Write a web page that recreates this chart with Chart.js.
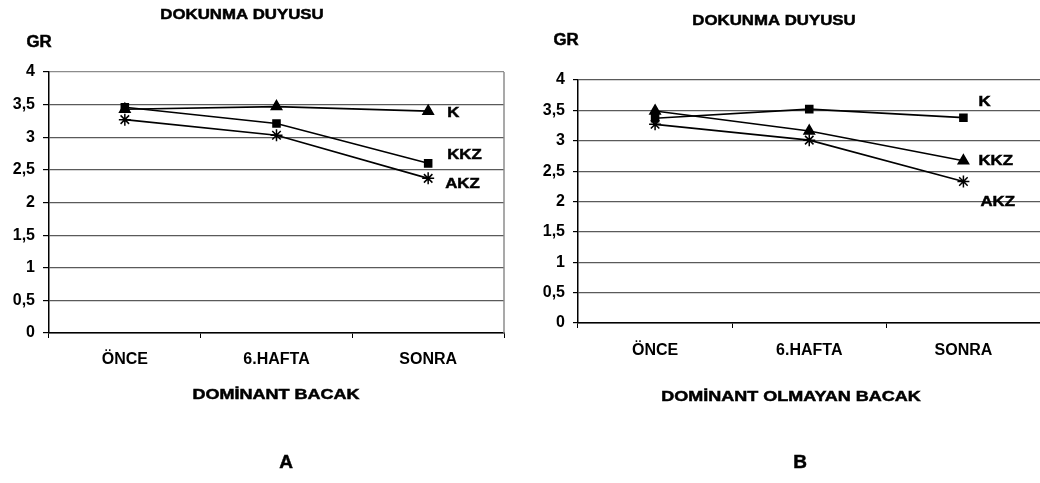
<!DOCTYPE html>
<html>
<head>
<meta charset="utf-8">
<script src="https://cdn.jsdelivr.net/npm/chart.js@4"></script>
<style>
  html, body { margin: 0; padding: 0; background: #fff; overflow: hidden; }
  #wrap { position: relative; width: 1040px; height: 483px; overflow: hidden; }
  .box { position: absolute; top: 0; height: 483px; }
</style>
</head>
<body>
<div id="wrap">
  <div class="box" style="left:0;width:520px"><canvas id="chartA"></canvas></div>
  <div class="box" style="left:520px;width:528px"><canvas id="chartB"></canvas></div>
</div>
<script>
// data
const categories = ["ÖNCE", "6.HAFTA", "SONRA"];
const seriesNames = ["K", "KKZ", "AKZ"];

// A - dominant leg
const kDominant = [3.43, 3.47, 3.40];
const kkzDominant = [3.46, 3.21, 2.60];
const akzDominant = [3.27, 3.03, 2.37];

// B - non-dominant leg
const kNonDominant = [3.37, 3.52, 3.38];
const kkzNonDominant = [3.49, 3.16, 2.67];
const akzNonDominant = [3.27, 3.01, 2.33];

const FONT = '"Liberation Sans", Arial, sans-serif';
Chart.defaults.font.family = FONT;
Chart.defaults.color = "#000";

// draws the free texts (title, GR, axis title, panel letter) and the series names at the line ends
const captionPlugin = {
  id: "captions",
  afterDraw(chart, args, opts) {
    const ctx = chart.ctx;
    const area = chart.chartArea;
    ctx.save();
    ctx.fillStyle = "#000";
    ctx.strokeStyle = "#000";
    ctx.textBaseline = "middle";
    if (opts.rightBorder) {
      ctx.save();
      ctx.strokeStyle = "#8c8c8c";
      ctx.lineWidth = 1.5;
      ctx.beginPath();
      ctx.moveTo(area.right, area.top);
      ctx.lineTo(area.right, area.bottom);
      ctx.stroke();
      ctx.restore();
    }
    const put = (text, x, y, size, stretch, align) => {
      ctx.save();
      ctx.font = "bold " + size + "px " + FONT;
      ctx.translate(x, y);
      ctx.scale(stretch, 1);
      ctx.textAlign = align;
      ctx.lineWidth = 0.5;
      ctx.fillText(text, 0, 0);
      ctx.strokeText(text, 0, 0);
      ctx.restore();
    };
    (opts.items || []).forEach(t => put(t.text, t.x, t.y, t.size, t.stretch || 1, t.align || "center"));
    (opts.endLabels || []).forEach((off, i) => {
      const pts = chart.getDatasetMeta(i).data;
      const p = pts[pts.length - 1];
      put(chart.data.datasets[i].label, p.x + off[0], p.y + off[1], 15, 1.12, "left");
    });
    ctx.restore();
  }
};

function lineSet(label, data, style, radius) {
  return {
    label: label,
    data: data,
    borderColor: "#000",
    backgroundColor: "#000",
    borderWidth: 1.6,
    pointStyle: style,
    pointRadius: radius,
    pointBackgroundColor: "#000",
    pointBorderColor: "#000",
    pointBorderWidth: 1.5,
    tension: 0,
  };
}

function makeChart(id, datasets, cfg) {
  return new Chart(document.getElementById(id), {
    type: "line",
    data: { labels: categories, datasets: datasets },
    plugins: [captionPlugin],
    options: {
      responsive: true,
      maintainAspectRatio: false,
      animation: false,
      devicePixelRatio: 1,
      layout: { padding: cfg.padding },
      plugins: {
        legend: { display: false },
        tooltip: { enabled: false },
        captions: {
          rightBorder: cfg.rightBorder,
          items: cfg.items,
          endLabels: cfg.endLabels,
        },
      },
      scales: {
        x: {
          offset: true,
          grid: {
            offset: true,
            drawOnChartArea: false,
            drawTicks: true,
            tickLength: 5,
            tickColor: "#000",
          },
          border: { color: "#000", width: 1.5 },
          ticks: {
            color: "#000",
            padding: cfg.xPad,
            font: { size: 16, weight: "bold" },
            maxRotation: 0,
          },
          afterFit: function (scale) {
            scale.height = 40;
          },
        },
        y: {
          min: 0,
          max: 4,
          ticks: {
            stepSize: 0.5,
            color: "#000",
            padding: 8,
            font: { size: 16, weight: "bold" },
            callback: function (value) {
              return String(value).replace(".", ",");
            },
          },
          grid: {
            color: function (c) {
              return c.tick && c.tick.value === 4 && cfg.rightBorder ? "#8c8c8c" : "#5a5a5a";
            },
            lineWidth: 1.2,
            tickLength: cfg.yTick,
            tickColor: "#000",
          },
          border: { color: "#000", width: 1.5 },
          afterFit: function (scale) {
            scale.width = cfg.yWidth;
          },
        },
      },
    },
  });
}

makeChart(
  "chartA",
  [
    lineSet(seriesNames[0], kDominant, "triangle", 6),
    lineSet(seriesNames[1], kkzDominant, "rect", 5),
    lineSet(seriesNames[2], akzDominant, "star", 6),
  ],
  {
    padding: { left: 0, top: 72, right: 16, bottom: 110 },
    yWidth: 49,
    yTick: 6,
    xPad: 12,
    rightBorder: true,
    endLabels: [[19, 2], [19, -8], [17, 6]],
    items: [
      { text: "DOKUNMA DUYUSU", x: 242, y: 15, size: 15, stretch: 1.12 },
      { text: "GR", x: 39, y: 43, size: 16, stretch: 1.05 },
      { text: "DOMİNANT BACAK", x: 276, y: 395, size: 15, stretch: 1.2 },
      { text: "A", x: 286, y: 463, size: 19, stretch: 1.0 },
    ],
  }
);

makeChart(
  "chartB",
  [
    lineSet(seriesNames[0], kNonDominant, "rect", 5),
    lineSet(seriesNames[1], kkzNonDominant, "triangle", 6),
    lineSet(seriesNames[2], akzNonDominant, "star", 6),
  ],
  {
    padding: { left: 0, top: 80, right: 0, bottom: 120 },
    yWidth: 58,
    yTick: 5,
    xPad: 13,
    rightBorder: false,
    endLabels: [[15, -16], [15, 0], [17, 20]],
    items: [
      { text: "DOKUNMA DUYUSU", x: 254, y: 21, size: 15, stretch: 1.12 },
      { text: "GR", x: 46, y: 41, size: 16, stretch: 1.05 },
      { text: "DOMİNANT OLMAYAN BACAK", x: 271, y: 397, size: 15, stretch: 1.2 },
      { text: "B", x: 280, y: 463, size: 19, stretch: 1.0 },
    ],
  }
);
</script>
</body>
</html>
